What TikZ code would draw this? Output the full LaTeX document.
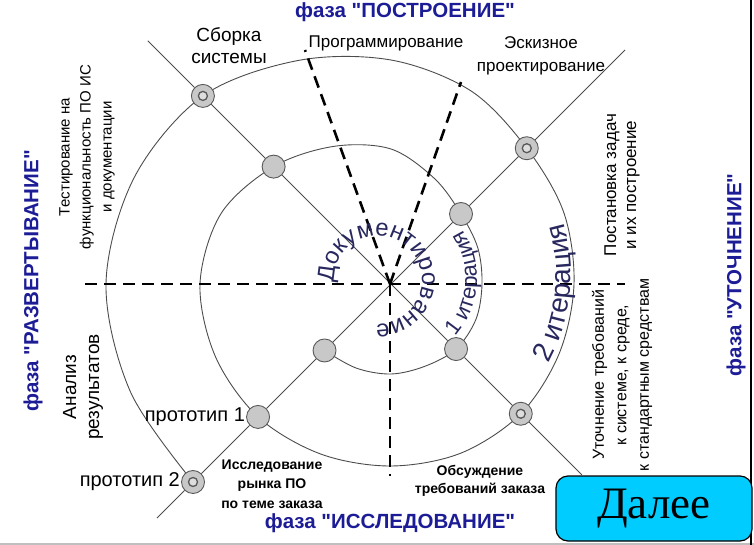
\documentclass[tikz,border=0pt]{standalone}
\usepackage{fontspec}
\setmainfont{Liberation Sans}[Ligatures=TeXOff]
\newfontfamily\btnfont{Liberation Serif}
\usetikzlibrary{decorations.text}

\definecolor{phaseblue}{RGB}{28,28,150}
\definecolor{spinenavy}{RGB}{40,40,95}
\definecolor{knotgray}{RGB}{200,200,200}
\definecolor{btncyan}{RGB}{0,204,255}

\tikzset{
  knot/.style={circle, draw=black!65, line width=0.9pt, fill=knotgray, minimum size=23pt, inner sep=0pt},
  ringknot/.style={knot, path picture={\draw[black!65, line width=1.3pt, fill=knotgray!60] (path picture bounding box.center) circle[radius=4.5pt];}},
  lbl/.style={align=center, inner sep=1pt},
  phasename/.style={text=phaseblue, font=\fontsize{20.5}{20.5}\selectfont\bfseries},
  dashline/.style={draw=black, line width=2.6pt, dash pattern=on 12pt off 7pt},
  thinline/.style={draw=black!70, line width=0.9pt},
}

\begin{document}
\begin{tikzpicture}[x=1pt, y=-1pt]
  \useasboundingbox (0,0) rectangle (754,545);

  \begin{scope}[shift={(391,284)}]
    % Spiral of iterations
    \draw[thinline] plot[smooth, tension=0.55] coordinates {
      (-225:94) (-247.5:91) (-270:90) (-292.5:89) (-315:92) (-337.5:92)
      (-360:91) (-382.5:94) (-405:99) (-427.5:114) (-450:135) (-472.5:149)
      (-495:166) (-517.5:184) (-540:191) (-562.5:190) (-585:188) (-607.5:184)
      (-630:182) (-652.5:183) (-675:183.5) (-697.5:182) (-720:183) (-742.5:187)
      (-765:192) (-787.5:209) (-810:224) (-832.5:242) (-855:266) (-877.5:278)
      (-900:285) (-922.5:282) (-945:280)};

    % Knots
    \foreach \n/\a/\r in {k1/225/94, k2/315/92, k3/405/99, k4/495/166, k5/585/188}
      \node[knot] (\n) at (-\a:\r) {};
    \foreach \n/\a/\r in {k6/675/183.5, k7/765/192, k8/855/266, k9/945/280}
      \node[ringknot] (\n) at (-\a:\r) {};

    % Diagonals through the knots
    \coordinate (nw) at (-135:344);
    \coordinate (se) at (-315:270);
    \coordinate (ne) at (-45:331);
    \coordinate (sw) at (-225:331);
    \draw[thinline] (nw) -- (k8) -- (k4) -- (k2) -- (k6) -- (se);
    \draw[thinline] (ne) -- (k7) -- (k3) -- (k1) -- (k5) -- (k9) -- (sw);

    % Phase borders
    \coordinate (o) at (-1,0);
    \coordinate (west) at (-306,0);
    \coordinate (east) at (234,0);
    \coordinate (south) at (-1,192);
    \coordinate (progEnd) at (-86,-234);
    \coordinate (eskizEnd) at (70,-202);
    \draw[dashline] (west) -- (east);
    \draw[dashline] (o) -- (south);
    \draw[dashline] (o) -- (progEnd);
    \draw[dashline] (o) -- (eskizEnd);
  \end{scope}

  % Phases
  \node[phasename] (phTop) at (405,12) {фаза "ПОСТРОЕНИЕ"};
  \node[phasename] (phBottom) at (390,523) {фаза "ИССЛЕДОВАНИЕ"};
  \node[phasename, rotate=90] (phLeft) at (33,281) {фаза "РАЗВЕРТЫВАНИЕ"};
  \node[phasename, rotate=90] (phRight) at (736,275) {фаза "УТОЧНЕНИЕ"};

  % Stages
  \node[lbl, font=\fontsize{19}{22}\selectfont] (sborka) at (229,46) {Сборка\\системы};
  \node[lbl, font=\fontsize{17}{17}\selectfont] (progr) at (386,43) {Программирование};
  \node[lbl, font=\fontsize{17}{23}\selectfont] (eskiz) at (541,56) {Эскизное\\проектирование};
  \node[lbl, font=\fontsize{15}{21}\selectfont, rotate=90] (test) at (87,157) {Тестирование на\\функциональность ПО ИС\\и документации};
  \node[lbl, font=\fontsize{17}{20}\selectfont, rotate=90] (postan) at (622,185) {Постановка задач\\и их построение};
  \node[lbl, font=\fontsize{16}{22.5}\selectfont, rotate=90] (utoch) at (622,375) {Уточнение требований\\к системе, к среде,\\к стандартным средствам};
  \node[lbl, font=\fontsize{19}{23}\selectfont, rotate=90] (analiz) at (83,387) {Анализ\\результатов};
  \node[lbl, font=\fontsize{20}{20}\selectfont, anchor=east] (proto1) at (k5.west) {прототип 1};
  \node[lbl, font=\fontsize{20}{20}\selectfont, anchor=east] (proto2) at (k9.west) {прототип 2};
  \node[lbl, font=\fontsize{14}{19.5}\selectfont\bfseries] (issl) at (272,484) {Исследование\\рынка ПО\\по теме заказа};
  \node[lbl, font=\fontsize{14}{18}\selectfont\bfseries] (obsuzh) at (480,481) {Обсуждение\\требований заказа};

  % Curved captions
  \path[decorate, decoration={text along path, text align=center,
      text={|\fontsize{24}{24}\selectfont\color{spinenavy}|Документирование}}]
    (378,280) ++(170:44) arc[start angle=170, end angle=460, radius=44];
  \path[decorate, decoration={text along path, text align=center,
      text={|\fontsize{22}{22}\selectfont\color{spinenavy}|1 итерация}}]
    (388,278) ++(50:89) arc[start angle=50, end angle=-42, radius=89];
  \path[decorate, decoration={text along path, text align=center,
      text={|\fontsize{28}{28}\selectfont\color{spinenavy}|2 итерация}}]
    (386,275) ++(51:185) arc[start angle=51, end angle=-39, radius=185];

  % Frame and button
  \draw[black!25, line width=1.5pt] (0,544) -- (754,544);
  \draw[black, line width=1.5pt] (751,0) -- (751,545);
  \node[draw=black, line width=1.2pt, fill=btncyan, rounded corners=12pt,
    minimum width=196pt, minimum height=65pt,
    font=\btnfont\fontsize{45}{45}\selectfont] (next) at (654,508.5) {Далее};
\end{tikzpicture}
\end{document}
